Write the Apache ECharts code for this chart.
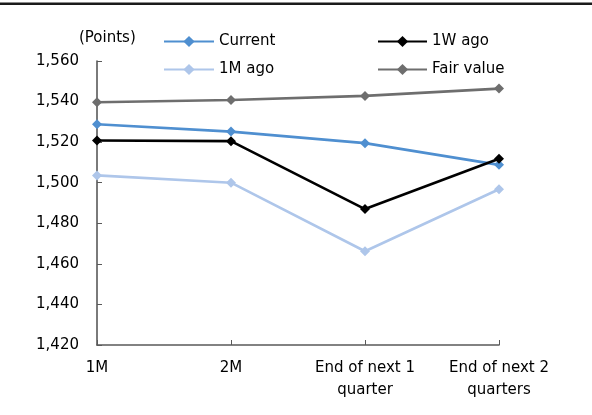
<!DOCTYPE html>
<html><head><meta charset="utf-8">
<script src="https://cdn.jsdelivr.net/npm/echarts@6/dist/echarts.min.js"></script>
<style>html,body{margin:0;padding:0;background:#fff}#c{width:592px;height:415px}</style>
</head><body><div id="c"></div>
<script>
const categories = ['1M', '2M', 'End of next 1\nquarter', 'End of next 2\nquarters'];
const current = [1528.8, 1525.2, 1519.5, 1508.8];
const weekAgo = [1520.8, 1520.5, 1487.0, 1511.8];
const monthAgo = [1503.6, 1500.0, 1466.2, 1496.8];
const fairValue = [1539.7, 1540.8, 1542.8, 1546.4];
const yMin = 1420, yMax = 1560, yStep = 20;

const FONT = 'DejaVu Sans';
const FS = 15;
function mk(name, data, color) {
  return {name, type: 'line', data, symbol: 'diamond', symbolSize: 10,
    lineStyle: {color, width: 2.6}, itemStyle: {color}, z: 3};
}
const legendText = {fontFamily: FONT, fontSize: FS, color: '#000', lineHeight: 14};
const chart = echarts.init(document.getElementById('c'));
chart.setOption({
  animation: false,
  textStyle: {fontFamily: FONT},
  grid: {left: 97, right: 93, top: 61, bottom: 70},
  graphic: [
    {type: 'rect', shape: {x: 0, y: 2.5, width: 592, height: 2.6}, style: {fill: '#1a1a1a'}},
    {type: 'text', x: 79, y: 38, style: {text: '(Points)', font: FS + 'px "DejaVu Sans"', fill: '#000', textVerticalAlign: 'middle'}}
  ],
  legend: [
    {data: ['Current', '1M ago'], orient: 'vertical', left: 163, top: 34, padding: 0, itemGap: 13,
     itemWidth: 50, itemHeight: 14, textStyle: legendText},
    {data: ['1W ago', 'Fair value'], orient: 'vertical', left: 377, top: 34, padding: 0, itemGap: 13,
     itemWidth: 49, itemHeight: 14, textStyle: legendText}
  ],
  xAxis: {type: 'category', data: categories, boundaryGap: false,
    axisLine: {lineStyle: {color: '#595959', width: 1.6}},
    axisTick: {inside: true, length: 5, lineStyle: {color: '#595959'}},
    axisLabel: {fontFamily: FONT, fontSize: FS, color: '#000', margin: 12, lineHeight: 22}},
  yAxis: {type: 'value', min: yMin, max: yMax, interval: yStep,
    splitLine: {show: false},
    axisLine: {show: true, lineStyle: {color: '#595959', width: 1.6}},
    axisTick: {show: true, inside: true, length: 5, lineStyle: {color: '#595959'}},
    axisLabel: {fontFamily: FONT, fontSize: FS, color: '#000', margin: 18,
      formatter: v => v.toLocaleString('en-US')}},
  series: [
    mk('Current', current, '#4f8fd0'),
    mk('1W ago', weekAgo, '#000000'),
    mk('1M ago', monthAgo, '#aec6ea'),
    mk('Fair value', fairValue, '#6e6e6e')
  ]
});
</script></body></html>
